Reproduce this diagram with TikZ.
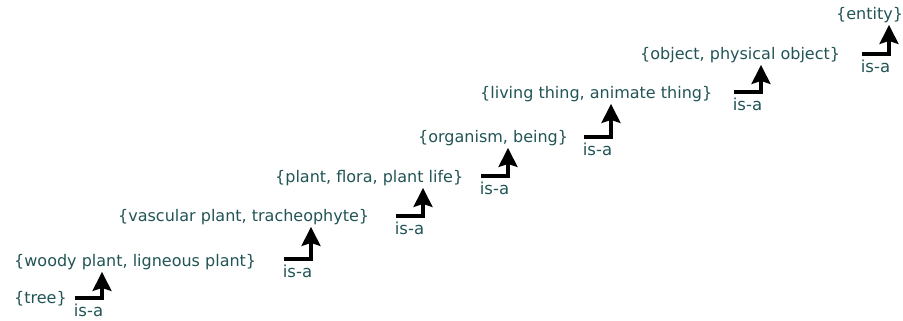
\documentclass[tikz,border=0pt]{standalone}
\usepackage{fontspec}
\setmainfont{DejaVu Sans}
\usetikzlibrary{arrows.meta}
\definecolor{synsetcol}{RGB}{34,84,86}
\begin{document}
\begin{tikzpicture}[x=1pt,y=1pt,
	synset/.style={anchor=west,inner sep=0pt,text=synsetcol,font=\fontsize{16}{19}\selectfont},
	isa/.style={black,line width=3.2pt,-{Stealth[length=19pt,width=19pt,inset=3pt]},shorten >=2pt},
	isalabel/.style={below,inner sep=4.5pt,text=synsetcol,font=\fontsize{16.5}{19}\selectfont}]
	\useasboundingbox (0,0) rectangle (903,-321);
	% the synsets, from the leaf up to the root
	\node[synset] (tree) at (14,-299) {\{tree\}};
	\node[synset] (woody) at (14,-262) {\{woody plant, ligneous plant\}};
	\node[synset] (vascular) at (118,-217) {\{vascular plant, tracheophyte\}};
	\node[synset] (plant) at (275,-178) {\{plant, flora, plant life\}};
	\node[synset] (organism) at (418,-138) {\{organism, being\}};
	\node[synset] (living) at (480,-94) {\{living thing, animate thing\}};
	\node[synset] (object) at (640,-55) {\{object, physical object\}};
	\node[synset] (entity) at (836,-15) {\{entity\}};
	% corners of the is-a arrows
	\coordinate (k1) at (102,-298);
	\coordinate (k2) at (311,-259);
	\coordinate (k3) at (423,-216);
	\coordinate (k4) at (508,-176);
	\coordinate (k5) at (611,-137);
	\coordinate (k6) at (761,-92);
	\coordinate (k7) at (889,-54);
	\draw[isa] ([xshift=-27]k1) -- node[isalabel] (isa1) {is-a} (k1) -- (k1 |- woody.south);
	\draw[isa] ([xshift=-27]k2) -- node[isalabel] (isa2) {is-a} (k2) -- (k2 |- vascular.south);
	\draw[isa] ([xshift=-27]k3) -- node[isalabel] (isa3) {is-a} (k3) -- (k3 |- plant.south);
	\draw[isa] ([xshift=-27]k4) -- node[isalabel] (isa4) {is-a} (k4) -- (k4 |- organism.south);
	\draw[isa] ([xshift=-27]k5) -- node[isalabel] (isa5) {is-a} (k5) -- (k5 |- living.south);
	\draw[isa] ([xshift=-27]k6) -- node[isalabel] (isa6) {is-a} (k6) -- (k6 |- object.south);
	\draw[isa] ([xshift=-27]k7) -- node[isalabel] (isa7) {is-a} (k7) -- (k7 |- entity.south);
\end{tikzpicture}
\end{document}
